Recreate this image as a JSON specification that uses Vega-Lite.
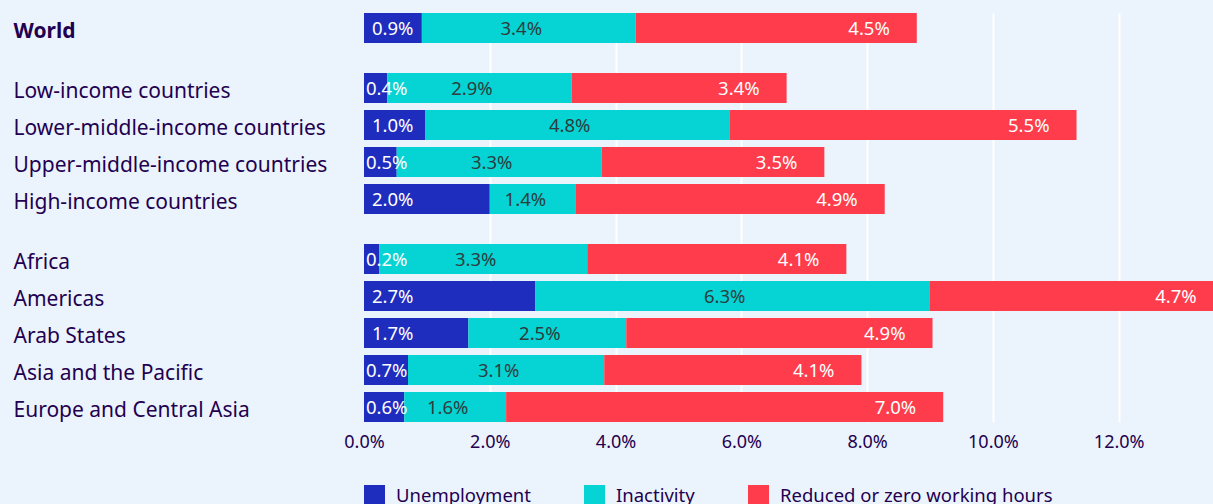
{
  "$schema": "https://vega.github.io/schema/vega-lite/v6.json",
  "background": "#ebf4fd",
  "padding": {"left": 13, "top": 13, "right": 0, "bottom": 0},
  "spacing": 0,
  "config": {
    "font": "Noto Sans",
    "view": {"stroke": null},
    "axis": {"domain": false, "ticks": false, "tickSize": 0, "title": null, "gridColor": "white", "gridWidth": 2}
  },
  "resolve": {
    "scale": {"x": "independent", "y": "independent", "color": "independent"},
    "axis": {"x": "independent", "y": "independent"},
    "legend": {"color": "independent"}
  },
  "data": {
    "values": [
      {"group": "world", "region": "World", "cause": "Unemployment", "value": 0.92},
      {"group": "world", "region": "World", "cause": "Inactivity", "value": 3.40},
      {"group": "world", "region": "World", "cause": "Reduced or zero working hours", "value": 4.47},
      {"group": "income", "region": "Low-income countries", "cause": "Unemployment", "value": 0.37},
      {"group": "income", "region": "Low-income countries", "cause": "Inactivity", "value": 2.93},
      {"group": "income", "region": "Low-income countries", "cause": "Reduced or zero working hours", "value": 3.42},
      {"group": "income", "region": "Lower-middle-income countries", "cause": "Unemployment", "value": 0.97},
      {"group": "income", "region": "Lower-middle-income countries", "cause": "Inactivity", "value": 4.84},
      {"group": "income", "region": "Lower-middle-income countries", "cause": "Reduced or zero working hours", "value": 5.52},
      {"group": "income", "region": "Upper-middle-income countries", "cause": "Unemployment", "value": 0.52},
      {"group": "income", "region": "Upper-middle-income countries", "cause": "Inactivity", "value": 3.26},
      {"group": "income", "region": "Upper-middle-income countries", "cause": "Reduced or zero working hours", "value": 3.54},
      {"group": "income", "region": "High-income countries", "cause": "Unemployment", "value": 2.00},
      {"group": "income", "region": "High-income countries", "cause": "Inactivity", "value": 1.37},
      {"group": "income", "region": "High-income countries", "cause": "Reduced or zero working hours", "value": 4.91},
      {"group": "region", "region": "Africa", "cause": "Unemployment", "value": 0.24},
      {"group": "region", "region": "Africa", "cause": "Inactivity", "value": 3.31},
      {"group": "region", "region": "Africa", "cause": "Reduced or zero working hours", "value": 4.12},
      {"group": "region", "region": "Americas", "cause": "Unemployment", "value": 2.72},
      {"group": "region", "region": "Americas", "cause": "Inactivity", "value": 6.27},
      {"group": "region", "region": "Americas", "cause": "Reduced or zero working hours", "value": 4.68},
      {"group": "region", "region": "Arab States", "cause": "Unemployment", "value": 1.66},
      {"group": "region", "region": "Arab States", "cause": "Inactivity", "value": 2.51},
      {"group": "region", "region": "Arab States", "cause": "Reduced or zero working hours", "value": 4.87},
      {"group": "region", "region": "Asia and the Pacific", "cause": "Unemployment", "value": 0.70},
      {"group": "region", "region": "Asia and the Pacific", "cause": "Inactivity", "value": 3.12},
      {"group": "region", "region": "Asia and the Pacific", "cause": "Reduced or zero working hours", "value": 4.09},
      {"group": "region", "region": "Europe and Central Asia", "cause": "Unemployment", "value": 0.64},
      {"group": "region", "region": "Europe and Central Asia", "cause": "Inactivity", "value": 1.62},
      {"group": "region", "region": "Europe and Central Asia", "cause": "Reduced or zero working hours", "value": 6.95}
    ]
  },
  "vconcat": [
    {
      "width": 849,
      "height": 45,
      "transform": [
        {"filter": "datum.group == 'world'"},
        {"calculate": "indexof(['Unemployment','Inactivity','Reduced or zero working hours'], datum.cause)", "as": "k"},
        {"stack": "value", "groupby": ["region"], "sort": [{"field": "k", "order": "ascending"}], "as": ["x0", "x1"]},
        {"calculate": "(datum.x0 + datum.x1) / 2", "as": "xm"},
        {"calculate": "format(datum.value, '.1f') + '%'", "as": "lab"}
      ],
      "encoding": {
        "y": {
          "field": "region", "type": "nominal", "sort": null,
          "scale": {"paddingInner": 0.18919, "paddingOuter": 0.2027, "align": 0},
          "axis": {"labelAlign": "left", "labelPadding": 351, "labelFontSize": 21, "labelFontWeight": "bold", "labelColor": "#230050", "labelLimit": 0, "labelOffset": 4, "grid": false}
        }
      },
      "layer": [
        {
          "mark": {"type": "bar", "clip": true},
          "encoding": {
            "x": {"field": "x0", "type": "quantitative", "scale": {"domain": [0, 13.5], "nice": false},
              "axis": {"values": [0, 2, 4, 6, 8, 10, 12], "labels": false, "grid": true, "gridOpacity": {"condition": {"test": "datum.value == 0", "value": 0}, "value": 1}}},
            "x2": {"field": "x1"},
            "color": {"field": "cause", "type": "nominal",
              "scale": {"domain": ["Unemployment", "Inactivity", "Reduced or zero working hours"], "range": ["#1e2dbe", "#06d3d3", "#fe3c4b"]},
              "legend": null}
          }
        },
        {
          "transform": [{"filter": "datum.k == 0"}],
          "mark": {"type": "text", "align": "left", "baseline": "middle", "dy": 1, "dx": {"expr": "datum.value < 0.8 ? 2 : 8"}, "color": "white", "fontSize": 18.5},
          "encoding": {"x": {"field": "x0", "type": "quantitative"}, "text": {"field": "lab"}}
        },
        {
          "transform": [{"filter": "datum.k == 1"}],
          "mark": {"type": "text", "align": "center", "baseline": "middle", "dy": 1, "dx": -7.5, "color": "#2c3d3e", "fontSize": 18.5},
          "encoding": {"x": {"field": "xm", "type": "quantitative"}, "text": {"field": "lab"}}
        },
        {
          "transform": [{"filter": "datum.k == 2"}],
          "mark": {"type": "text", "align": "right", "baseline": "middle", "dy": 1, "dx": -27, "color": "white", "fontSize": 18.5},
          "encoding": {"x": {"field": "x1", "type": "quantitative"}, "text": {"field": "lab"}}
        }
      ]
    },
    {
      "width": 849,
      "height": 171,
      "transform": [
        {"filter": "datum.group == 'income'"},
        {"calculate": "indexof(['Unemployment','Inactivity','Reduced or zero working hours'], datum.cause)", "as": "k"},
        {"stack": "value", "groupby": ["region"], "sort": [{"field": "k", "order": "ascending"}], "as": ["x0", "x1"]},
        {"calculate": "(datum.x0 + datum.x1) / 2", "as": "xm"},
        {"calculate": "format(datum.value, '.1f') + '%'", "as": "lab"}
      ],
      "encoding": {
        "y": {
          "field": "region", "type": "nominal", "sort": null,
          "scale": {"paddingInner": 0.18919, "paddingOuter": 0.4054, "align": 0.5},
          "axis": {"labelAlign": "left", "labelPadding": 351, "labelFontSize": 21, "labelColor": "#230050", "labelLimit": 0, "labelOffset": 4, "grid": false}
        }
      },
      "layer": [
        {
          "mark": {"type": "bar", "clip": true},
          "encoding": {
            "x": {"field": "x0", "type": "quantitative", "scale": {"domain": [0, 13.5], "nice": false},
              "axis": {"values": [0, 2, 4, 6, 8, 10, 12], "labels": false, "grid": true, "gridOpacity": {"condition": {"test": "datum.value == 0", "value": 0}, "value": 1}}},
            "x2": {"field": "x1"},
            "color": {"field": "cause", "type": "nominal",
              "scale": {"domain": ["Unemployment", "Inactivity", "Reduced or zero working hours"], "range": ["#1e2dbe", "#06d3d3", "#fe3c4b"]},
              "legend": null}
          }
        },
        {
          "transform": [{"filter": "datum.k == 0"}],
          "mark": {"type": "text", "align": "left", "baseline": "middle", "dy": 1, "dx": {"expr": "datum.value < 0.8 ? 2 : 8"}, "color": "white", "fontSize": 18.5},
          "encoding": {"x": {"field": "x0", "type": "quantitative"}, "text": {"field": "lab"}}
        },
        {
          "transform": [{"filter": "datum.k == 1"}],
          "mark": {"type": "text", "align": "center", "baseline": "middle", "dy": 1, "dx": -7.5, "color": "#2c3d3e", "fontSize": 18.5},
          "encoding": {"x": {"field": "xm", "type": "quantitative"}, "text": {"field": "lab"}}
        },
        {
          "transform": [{"filter": "datum.k == 2"}],
          "mark": {"type": "text", "align": "right", "baseline": "middle", "dy": 1, "dx": -27, "color": "white", "fontSize": 18.5},
          "encoding": {"x": {"field": "x1", "type": "quantitative"}, "text": {"field": "lab"}}
        }
      ]
    },
    {
      "width": 849,
      "height": 193,
      "transform": [
        {"filter": "datum.group == 'region'"},
        {"calculate": "indexof(['Unemployment','Inactivity','Reduced or zero working hours'], datum.cause)", "as": "k"},
        {"stack": "value", "groupby": ["region"], "sort": [{"field": "k", "order": "ascending"}], "as": ["x0", "x1"]},
        {"calculate": "(datum.x0 + datum.x1) / 2", "as": "xm"},
        {"calculate": "format(datum.value, '.1f') + '%'", "as": "lab"}
      ],
      "encoding": {
        "y": {
          "field": "region", "type": "nominal", "sort": null,
          "scale": {"paddingInner": 0.18919, "paddingOuter": 0.2027, "align": 1},
          "axis": {"labelAlign": "left", "labelPadding": 351, "labelFontSize": 21, "labelColor": "#230050", "labelLimit": 0, "labelOffset": 4, "grid": false}
        }
      },
      "layer": [
        {
          "mark": {"type": "bar", "clip": true},
          "encoding": {
            "x": {"field": "x0", "type": "quantitative", "scale": {"domain": [0, 13.5], "nice": false},
              "axis": {"values": [0, 2, 4, 6, 8, 10, 12], "labelExpr": "format(datum.value, '.1f') + '%'", "labelFontSize": 18, "labelColor": "#230050", "labelPadding": 11, "labelFlush": false, "grid": true, "gridOpacity": {"condition": {"test": "datum.value == 0", "value": 0}, "value": 1}}},
            "x2": {"field": "x1"},
            "color": {"field": "cause", "type": "nominal",
              "scale": {"domain": ["Unemployment", "Inactivity", "Reduced or zero working hours"], "range": ["#1e2dbe", "#06d3d3", "#fe3c4b"]},
              "legend": {"orient": "bottom", "direction": "horizontal", "title": null, "symbolType": "square", "symbolSize": 441, "symbolStrokeWidth": 0, "symbolOpacity": 1, "labelFontSize": 18.5, "labelColor": "#230050", "labelOffset": 11, "columnPadding": 53, "offset": 34, "labelLimit": 0}}
          }
        },
        {
          "transform": [{"filter": "datum.k == 0"}],
          "mark": {"type": "text", "align": "left", "baseline": "middle", "dy": 1, "dx": {"expr": "datum.value < 0.8 ? 2 : 8"}, "color": "white", "fontSize": 18.5},
          "encoding": {"x": {"field": "x0", "type": "quantitative"}, "text": {"field": "lab"}}
        },
        {
          "transform": [{"filter": "datum.k == 1"}],
          "mark": {"type": "text", "align": "center", "baseline": "middle", "dy": 1, "dx": -7.5, "color": "#2c3d3e", "fontSize": 18.5},
          "encoding": {"x": {"field": "xm", "type": "quantitative"}, "text": {"field": "lab"}}
        },
        {
          "transform": [{"filter": "datum.k == 2"}],
          "mark": {"type": "text", "align": "right", "baseline": "middle", "dy": 1, "dx": -27, "color": "white", "fontSize": 18.5},
          "encoding": {"x": {"field": "x1", "type": "quantitative"}, "text": {"field": "lab"}}
        }
      ]
    }
  ]
}
